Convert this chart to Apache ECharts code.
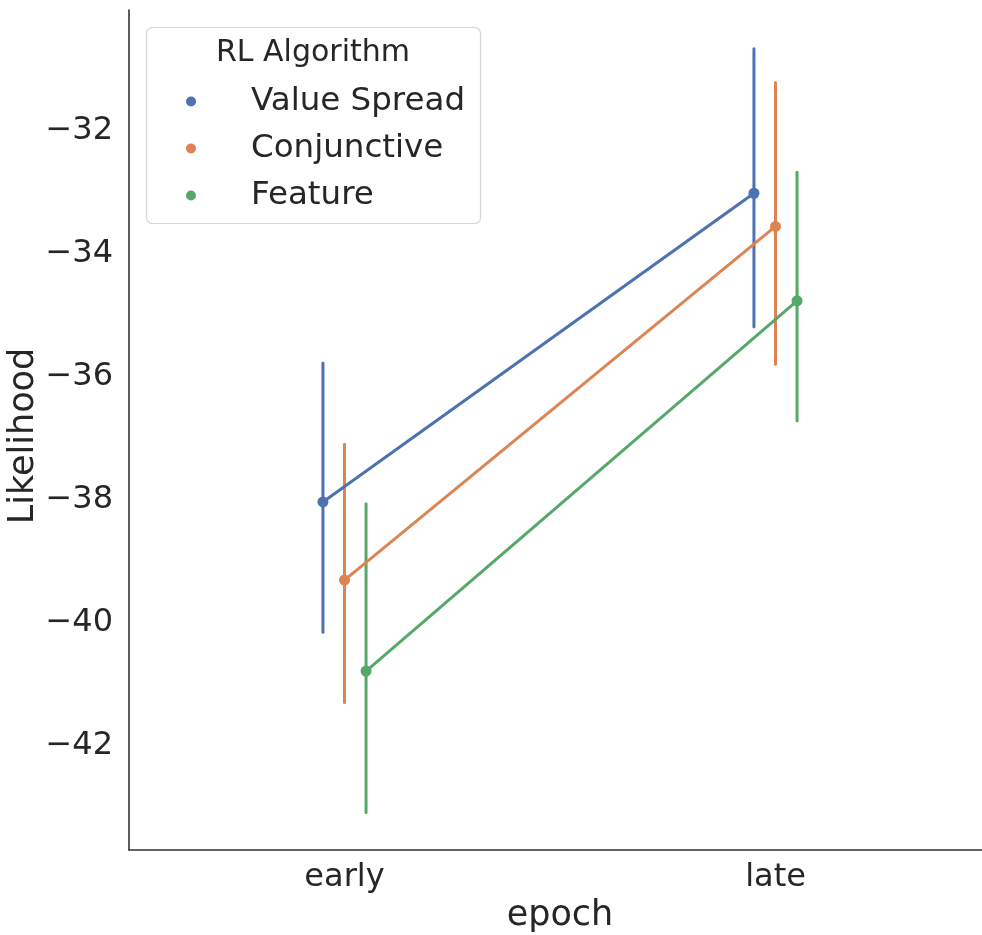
<!DOCTYPE html>
<html>
<head>
<meta charset="utf-8">
<title>Likelihood by epoch</title>
<script src="https://cdn.jsdelivr.net/npm/echarts@6/dist/echarts.min.js"></script>
<style>
  html, body { margin: 0; padding: 0; background: #fff; }
  #chart { width: 982px; height: 935px; }
</style>
</head>
<body>
<div id="chart"></div>
<script>
// Categories on the x axis
var epochs = ['early', 'late'];

// Algorithms (hue) and their colours
var algorithms = ['Value Spread', 'Conjunctive', 'Feature'];
var colors = ['#4C72B0', '#DD8452', '#55A868'];

// Point estimates per algorithm, one value per epoch
var valueSpreadMean = [-38.04, -33.02];
var conjunctiveMean = [-39.31, -33.56];
var featureMean     = [-40.79, -34.77];

// Confidence interval bounds (low, high) per epoch
var valueSpreadLow  = [-40.16, -35.19];
var valueSpreadHigh = [-35.78, -30.67];
var conjunctiveLow  = [-41.30, -35.80];
var conjunctiveHigh = [-37.10, -31.22];
var featureLow      = [-43.09, -36.72];
var featureHigh     = [-38.07, -32.68];

// Y tick labels
var yTicks = [-42, -40, -38, -36, -34, -32];

var means = [valueSpreadMean, conjunctiveMean, featureMean];
var lows  = [valueSpreadLow, conjunctiveLow, featureLow];
var highs = [valueSpreadHigh, conjunctiveHigh, featureHigh];

// horizontal dodge between hue levels (in category units)
var DODGE = 0.05;

var FONT = 'DejaVu Sans';
var TEXT = '#262626';

var series = [];
algorithms.forEach(function (name, k) {
  var off = (k - 1) * DODGE;
  var pts = epochs.map(function (e, i) { return [i + off, means[k][i]]; });
  var bars = epochs.map(function (e, i) { return [i + off, lows[k][i], highs[k][i]]; });
  series.push({
    name: name,
    type: 'line',
    xAxisIndex: 1,
    data: pts,
    symbol: 'circle',
    symbolSize: 11,
    showSymbol: true,
    lineStyle: { color: colors[k], width: 3 },
    itemStyle: { color: colors[k] },
    z: 3,
    animation: false
  });
  series.push({
    name: name + ' CI',
    type: 'custom',
    xAxisIndex: 1,
    data: bars,
    encode: { x: 0, y: [1, 2] },
    renderItem: function (params, api) {
      var a = api.coord([api.value(0), api.value(1)]);
      var b = api.coord([api.value(0), api.value(2)]);
      return {
        type: 'line',
        shape: { x1: a[0], y1: a[1], x2: b[0], y2: b[1] },
        style: { stroke: colors[k], lineWidth: 3, lineCap: 'round' }
      };
    },
    z: 2,
    animation: false
  });
});

var chart = echarts.init(document.getElementById('chart'), null, { renderer: 'canvas' });
chart.setOption({
  backgroundColor: '#fff',
  animation: false,
  grid: { left: 129, top: 10, width: 862, height: 840, containLabel: false, outerBoundsMode: 'none' },
  xAxis: [{
    type: 'category',
    data: epochs,
    boundaryGap: true,
    name: 'epoch',
    nameLocation: 'middle',
    nameGap: 46,
    nameTextStyle: { fontFamily: FONT, fontSize: 35, color: TEXT },
    axisLine: { show: true, onZero: false, lineStyle: { color: '#333', width: 1.6 } },
    axisTick: { show: false },
    axisLabel: { fontFamily: FONT, fontSize: 32, color: TEXT, margin: 12 },
    splitLine: { show: false }
  }, {
    type: 'value',
    min: -0.5,
    max: 1.5,
    show: false
  }],
  yAxis: {
    type: 'value',
    min: -43.70,
    max: -30.04,
    axisLine: { show: true, onZero: false, lineStyle: { color: '#333', width: 1.6 } },
    axisTick: { show: false },
    axisLabel: {
      customValues: yTicks,
      fontFamily: FONT, fontSize: 32, color: TEXT, margin: 16,
      formatter: function (v) { return (v < 0 ? '\u2212' : '') + Math.abs(v); }
    },
    splitLine: { show: false }
  },
  legend: {
    data: algorithms,
    orient: 'vertical',
    left: 186,
    top: 83,
    padding: 0,
    itemWidth: 10,
    itemHeight: 10,
    itemGap: 10,
    icon: 'circle',
    textStyle: { fontFamily: FONT, fontSize: 32.5, color: TEXT, lineHeight: 37, padding: [0, 0, 0, 50] },
    z: 5
  },
  graphic: [{
    type: 'rect',
    shape: { x: 146.5, y: 27.5, width: 334, height: 196, r: 6 },
    style: { fill: 'rgba(255,255,255,0.8)', stroke: '#d6d6d6', lineWidth: 1.2 },
    z: 4
  }, {
    type: 'text',
    x: 313, y: 53,
    style: { text: 'RL Algorithm', fontFamily: FONT, fontSize: 30, fill: TEXT, align: 'center', verticalAlign: 'middle' },
    z: 5
  }, {
    // y-axis title, rotated to read bottom-to-top
    type: 'text',
    x: 24, y: 436,
    rotation: Math.PI / 2,
    style: { text: 'Likelihood', fontFamily: FONT, fontSize: 35, fill: TEXT, align: 'center', verticalAlign: 'middle' },
    z: 5
  }],
  series: series
});
</script>
</body>
</html>
